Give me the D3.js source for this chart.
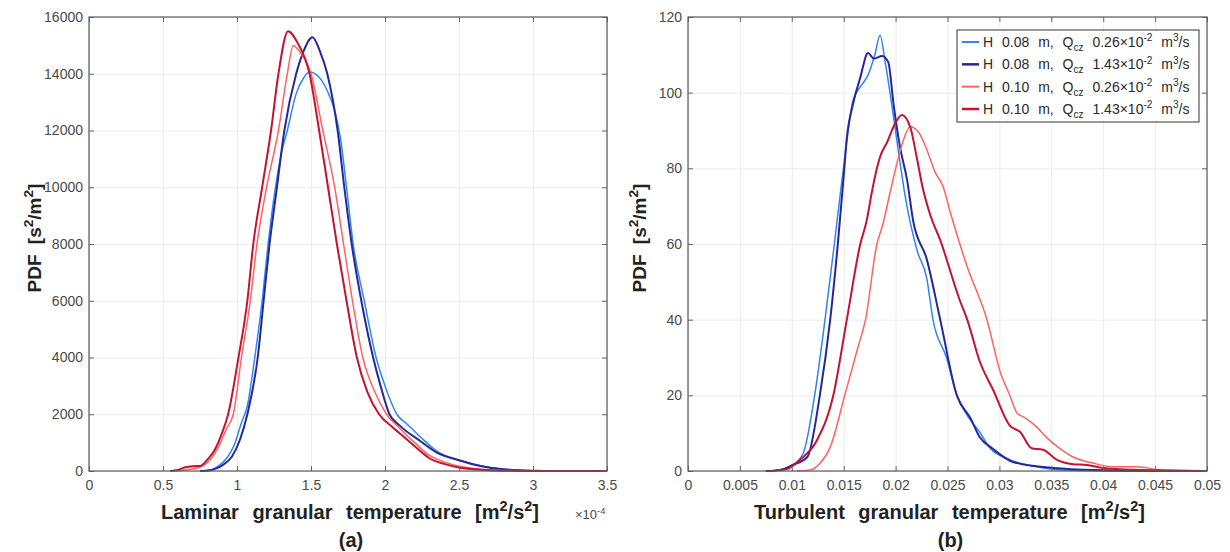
<!DOCTYPE html>
<html>
<head>
<meta charset="utf-8">
<script src="https://cdn.jsdelivr.net/npm/d3@7"></script>
<style>
	body { margin: 0; background: #fff; }
	svg { font-family: "Liberation Sans", Arial, sans-serif; }
	.tickLabels .tick text { fill: #4a4a4a; font-size: 14px; }
	.tickLabels .tick line { stroke: #666; }
	.grid .tick line { stroke: #ececec; }
	.grid .domain, .tickLabels .domain, .boxTicks .domain { display: none; }
	.boxTicks .tick line { stroke: #666; }
	.axisTitle { font-weight: bold; fill: #222; }
</style>
</head>
<body>
<script>
;((window, document, d3) => {
	'use strict';

	// colours of the four runs, legend order
	var lightBlue = "#2f86ec", darkBlue = "#27279c", lightRed = "#ff6262", darkRed = "#c2142f";

	// legend labels
	var legendH = ["0.08", "0.08", "0.10", "0.10"];
	var legendQ = ["0.26", "1.43", "0.26", "1.43"];

	// tick labels
	var lamTicksX = [0, 0.5, 1, 1.5, 2, 2.5, 3, 3.5];
	var lamTicksY = [0, 2000, 4000, 6000, 8000, 10000, 12000, 14000, 16000];
	var turbTicksX = [0, 0.005, 0.01, 0.015, 0.02, 0.025, 0.03, 0.035, 0.04, 0.045, 0.05];
	var turbTicksY = [0, 20, 40, 60, 80, 100, 120];

	// (a) laminar granular temperature, x in 1e-4 m2/s2, PDF
	var lamLightBlue = [[0.75,0],[0.8,15],[0.84,60],[0.88,200],[0.93,450],[0.98,900],[1.03,1700],[1.07,2300],[1.12,4000],[1.17,6000],[1.21,8000],[1.26,10000],[1.30,11200],[1.34,12000],[1.40,13300],[1.45,13850],[1.49,14060],[1.55,13900],[1.61,13400],[1.66,12700],[1.70,11700],[1.74,10000],[1.785,8000],[1.86,6000],[1.94,4000],[2.0,3000],[2.08,2000],[2.15,1650],[2.24,1200],[2.35,700],[2.5,380],[2.6,240],[2.7,130],[2.8,65],[2.9,30],[3.0,12],[3.2,0],[3.5,0]];
	var lamDarkBlue = [[0.75,0],[0.82,30],[0.86,90],[0.9,200],[0.965,500],[1.02,1100],[1.07,2000],[1.14,4000],[1.18,6000],[1.22,8000],[1.27,10000],[1.32,12000],[1.40,14000],[1.45,14800],[1.51,15290],[1.56,14800],[1.61,14000],[1.68,12000],[1.725,10000],[1.775,8000],[1.84,6000],[1.92,4000],[1.97,3000],[2.03,2000],[2.1,1600],[2.24,1050],[2.35,650],[2.5,380],[2.6,230],[2.7,120],[2.8,60],[2.9,25],[3.0,10],[3.2,0],[3.5,0]];
	var lamLightRed = [[0.55,0],[0.62,20],[0.68,60],[0.75,130],[0.8,300],[0.87,800],[0.93,1500],[0.975,2000],[1.03,4000],[1.09,6000],[1.135,8000],[1.2,10000],[1.28,12000],[1.34,14000],[1.38,15000],[1.42,14800],[1.5,14000],[1.58,12000],[1.66,10000],[1.72,8000],[1.78,6000],[1.85,4000],[1.93,2800],[2.01,2000],[2.1,1500],[2.2,1000],[2.3,550],[2.4,320],[2.5,170],[2.6,90],[2.7,45],[2.8,20],[3.0,8],[3.5,0]];
	var lamDarkRed = [[0.55,0],[0.6,40],[0.65,130],[0.7,170],[0.75,180],[0.8,400],[0.85,750],[0.9,1350],[0.94,2000],[1.01,4000],[1.07,6000],[1.11,8000],[1.17,10000],[1.23,12000],[1.28,14000],[1.345,15500],[1.41,15080],[1.49,14000],[1.555,12000],[1.615,10000],[1.675,8000],[1.74,6000],[1.81,4000],[1.88,2800],[1.96,2000],[2.05,1550],[2.15,1100],[2.25,650],[2.3,450],[2.4,250],[2.5,120],[2.6,60],[2.7,25],[2.8,10],[3.0,0],[3.5,0]];

	// (b) turbulent granular temperature, m2/s2, PDF
	var turbLightBlue = [[0.0075,0],[0.0086,0.2],[0.01,1.5],[0.0111,4.7],[0.0122,20],[0.0132,40],[0.0141,60],[0.0146,71.6],[0.0152,85],[0.0159,98],[0.0166,101.5],[0.01735,104.7],[0.018,110],[0.0185,115.2],[0.019,108],[0.0198,93.6],[0.0204,82],[0.0209,73],[0.0221,58],[0.023,51],[0.0236,40],[0.0249,30],[0.0259,20],[0.0272,13.5],[0.0281,10.3],[0.0291,6],[0.031,3],[0.0336,1.1],[0.0358,0.3],[0.04,0],[0.05,0]];
	var turbDarkBlue = [[0.0075,0],[0.0089,0.3],[0.01,1.5],[0.0115,3.7],[0.0127,20],[0.0137,40],[0.0145,62],[0.015,78],[0.0153,88],[0.0159,97],[0.0166,104],[0.01734,110.5],[0.0179,109],[0.0187,109.7],[0.0193,108],[0.0198,97],[0.0204,86],[0.0211,77],[0.0217,66],[0.023,56],[0.0243,40],[0.0259,20],[0.0272,14],[0.0281,9],[0.0294,5.8],[0.0313,2.4],[0.0352,0.8],[0.04,0.2],[0.045,0],[0.05,0]];
	var turbLightRed = [[0.0105,0],[0.0118,0.3],[0.0127,2],[0.0137,6.3],[0.0151,20],[0.0163,32],[0.0171,40],[0.0182,60],[0.0188,65.5],[0.0195,74],[0.0201,81],[0.0207,87],[0.0214,91],[0.0222,89.6],[0.023,85],[0.0238,79],[0.0246,75],[0.0252,69],[0.0269,54],[0.0288,40],[0.0301,26],[0.031,20],[0.0317,15.3],[0.0323,14.3],[0.033,13],[0.0336,11.6],[0.0346,8.7],[0.0358,6],[0.0371,3.7],[0.039,2.1],[0.041,1.1],[0.0432,1.1],[0.0455,0.3],[0.05,0]];
	var turbDarkRed = [[0.008,0],[0.0095,0.5],[0.0108,3],[0.0124,8],[0.014,20],[0.0153,40],[0.0166,60],[0.0172,66],[0.0177,73.5],[0.0182,80],[0.0185,83],[0.0192,87],[0.0198,91],[0.0206,94.1],[0.0214,91],[0.0221,82],[0.0226,75],[0.0233,68],[0.0243,61],[0.0262,45],[0.0269,40],[0.0281,29],[0.0294,21.4],[0.031,12],[0.032,10.3],[0.0331,6],[0.0342,5.6],[0.0355,3],[0.0371,1.8],[0.0384,1.6],[0.04,0.8],[0.0429,0.3],[0.05,0]];

	var seriesColors = [lightBlue, darkBlue, lightRed, darkRed];
	var seriesWidths = [1.5, 2, 1.5, 2];

	var svg = d3.select("body").append("svg")
		.attr("width", 1230)
		.attr("height", 552);

	// write text with sub/superscript pieces, parts are [text, "sup"|"sub"|""]
	function richText(sel, parts, size) {
		var shift = 0;
		parts.forEach(function(p) {
			var target = p[1] === "sup" ? -0.4 * size : (p[1] === "sub" ? 0.28 * size : 0);
			sel.append("tspan")
				.attr("dy", target - shift)
				.style("font-size", (p[1] ? 0.72 * size : size) + "px")
				.text(p[0]);
			shift = target;
		});
	}

	function drawPanel(cfg) {
		var x = d3.scaleLinear().domain(cfg.xDomain).range([cfg.left, cfg.right]);
		var y = d3.scaleLinear().domain(cfg.yDomain).range([471, 17]);
		var g = svg.append("g");

		// grid
		g.append("g").attr("class", "grid")
			.attr("transform", "translate(0,471)")
			.call(d3.axisBottom(x).tickValues(cfg.ticksX).tickSize(-454).tickFormat(""));
		g.append("g").attr("class", "grid")
			.attr("transform", "translate(" + cfg.left + ",0)")
			.call(d3.axisLeft(y).tickValues(cfg.ticksY).tickSize(-(cfg.right - cfg.left)).tickFormat(""));

		// curves
		var line = d3.line()
			.x(d => x(d[0]))
			.y(d => y(d[1]))
			.curve(d3.curveMonotoneX);
		cfg.series.forEach(function(s, i) {
			g.append("path")
				.datum(s)
				.attr("fill", "none")
				.attr("stroke", seriesColors[i])
				.attr("stroke-width", seriesWidths[i])
				.attr("stroke-linejoin", "round")
				.attr("d", line);
		});

		// inward ticks with labels, plus box ticks
		g.append("g").attr("class", "tickLabels")
			.attr("transform", "translate(0,471)")
			.call(d3.axisBottom(x).tickValues(cfg.ticksX).tickSize(-5).tickPadding(9).tickFormat(String));
		g.append("g").attr("class", "tickLabels")
			.attr("transform", "translate(" + cfg.left + ",0)")
			.call(d3.axisLeft(y).tickValues(cfg.ticksY).tickSize(-5).tickPadding(6).tickFormat(String));
		g.append("g").attr("class", "boxTicks")
			.attr("transform", "translate(0,17)")
			.call(d3.axisTop(x).tickValues(cfg.ticksX).tickSize(-5).tickFormat(""));
		g.append("g").attr("class", "boxTicks")
			.attr("transform", "translate(" + cfg.right + ",0)")
			.call(d3.axisRight(y).tickValues(cfg.ticksY).tickSize(-5).tickFormat(""));

		g.append("rect")
			.attr("x", cfg.left).attr("y", 17)
			.attr("width", cfg.right - cfg.left).attr("height", 454)
			.attr("fill", "none").attr("stroke", "#5a5a5a").attr("stroke-width", 1.2);

		// axis titles
		var cx = (cfg.left + cfg.right) / 2;
		richText(g.append("text").attr("class", "axisTitle")
			.attr("x", cx + 2).attr("y", 519).attr("text-anchor", "middle")
			.style("word-spacing", "8px"), cfg.xTitle, 20);
		richText(g.append("text").attr("class", "axisTitle")
			.attr("transform", "translate(" + cfg.yTitleX + ",238)rotate(-90)")
			.attr("text-anchor", "middle")
			.style("word-spacing", "5px"), [["PDF [s", ""], ["2", "sup"], ["/m", ""], ["2", "sup"], ["]", ""]], 19);
		g.append("text").attr("class", "axisTitle")
			.attr("x", cx + 3).attr("y", 547).attr("text-anchor", "middle")
			.style("font-size", "20px")
			.text(cfg.panel);
		return g;
	}

	///////////////////////////////////////////////////////////////////////////
	//////////////////////////// (a) laminar //////////////////////////////////
	///////////////////////////////////////////////////////////////////////////

	var gA = drawPanel({
		left: 89, right: 607, xDomain: [0, 3.5], yDomain: [0, 16000],
		ticksX: lamTicksX, ticksY: lamTicksY, yTitleX: 41,
		series: [lamLightBlue, lamDarkBlue, lamLightRed, lamDarkRed],
		xTitle: [["Laminar granular temperature [m", ""], ["2", "sup"], ["/s", ""], ["2", "sup"], ["]", ""]],
		panel: "(a)"
	});

	// exponent note under the x axis
	richText(gA.append("text")
		.attr("x", 575).attr("y", 519)
		.style("fill", "#4a4a4a"), [["\u00d710", ""], ["-4", "sup"]], 13);

	///////////////////////////////////////////////////////////////////////////
	//////////////////////////// (b) turbulent ////////////////////////////////
	///////////////////////////////////////////////////////////////////////////

	drawPanel({
		left: 688, right: 1207, xDomain: [0, 0.05], yDomain: [0, 120],
		ticksX: turbTicksX, ticksY: turbTicksY, yTitleX: 646,
		series: [turbLightBlue, turbDarkBlue, turbLightRed, turbDarkRed],
		xTitle: [["Turbulent granular temperature [m", ""], ["2", "sup"], ["/s", ""], ["2", "sup"], ["]", ""]],
		panel: "(b)"
	});

	///////////////////////////////////////////////////////////////////////////
	//////////////////////////// Legend ///////////////////////////////////////
	///////////////////////////////////////////////////////////////////////////

	var legend = svg.append("g").attr("transform", "translate(957,30)");
	legend.append("rect")
		.attr("width", 242).attr("height", 92)
		.attr("fill", "#fff").attr("stroke", "#555").attr("stroke-width", 1.2);

	var rowY = d3.scalePoint().domain(d3.range(legendH.length)).range([12, 79]);
	legendH.forEach(function(h, i) {
		var yy = rowY(i);
		legend.append("line")
			.attr("x1", 5).attr("x2", 22).attr("y1", yy).attr("y2", yy)
			.attr("stroke", seriesColors[i]).attr("stroke-width", seriesWidths[i] + 0.5);
		richText(legend.append("text")
			.attr("x", 26).attr("y", yy + 5)
			.style("fill", "#2a2a2a")
			.style("word-spacing", "5px"),
			[["H " + h + " m, Q", ""], ["cz", "sub"], [" " + legendQ[i] + "\u00d710", ""], ["-2", "sup"], [" m", ""], ["3", "sup"], ["/s", ""]], 14);
	});

})(window, document, window.d3);
</script>
</body>
</html>
